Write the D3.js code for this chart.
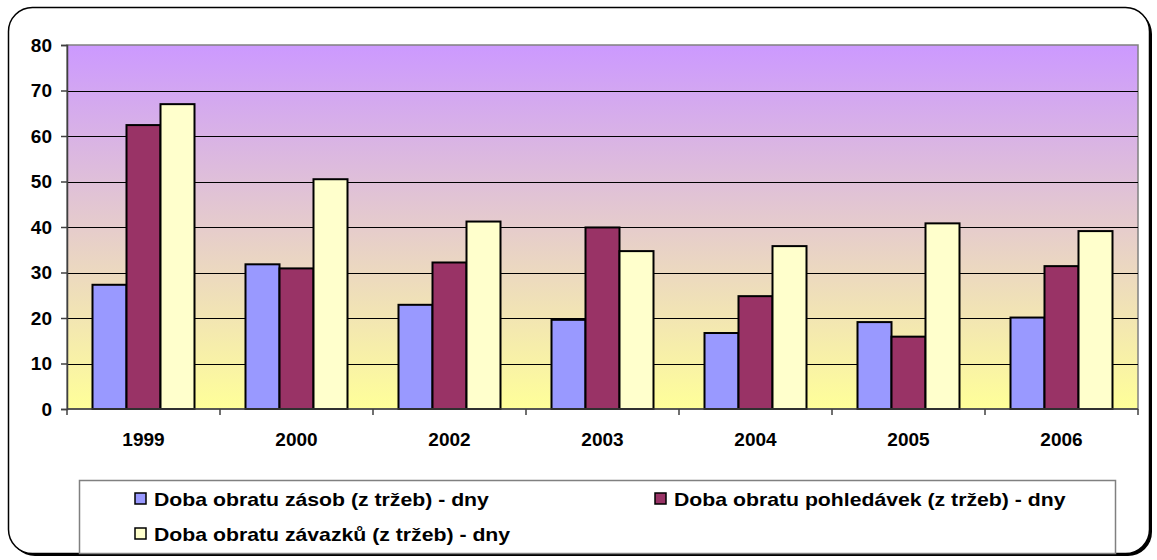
<!DOCTYPE html>
<html>
<head>
<meta charset="utf-8">
<script src="https://cdn.jsdelivr.net/npm/d3@7"></script>
<style>
  html, body { margin: 0; padding: 0; background: #fff; }
  svg { display: block; font-family: "Liberation Sans", Arial, sans-serif; }
</style>
</head>
<body>
<svg id="chart" width="1157" height="560"></svg>
<script>
// Turnover periods in days, by year
const years = ["1999", "2000", "2002", "2003", "2004", "2005", "2006"];
const seriesNames = [
  "Doba obratu zásob (z tržeb) - dny",
  "Doba obratu pohledávek (z tržeb) - dny",
  "Doba obratu závazků (z tržeb) - dny"
];
const inventoryDays   = [27.3, 31.8, 22.9, 19.6, 16.7, 19.1, 20.1];
const receivableDays  = [62.4, 30.9, 32.2, 39.9, 24.8, 15.9, 31.4];
const payableDays     = [67.0, 50.5, 41.2, 34.7, 35.8, 40.8, 39.1];
const yTicks = [0, 10, 20, 30, 40, 50, 60, 70, 80];
const seriesColors = ["#9999FF", "#993366", "#FFFFCC"];

const seriesValues = [inventoryDays, receivableDays, payableDays];

const svg = d3.select("#chart");

// Outer chart frame with drop shadow
svg.append("rect")
  .attr("x", 11).attr("y", 10).attr("width", 1141).attr("height", 546)
  .attr("rx", 24).attr("ry", 24).attr("fill", "#000");
svg.append("rect")
  .attr("x", 8.5).attr("y", 7.5).attr("width", 1141).attr("height", 546)
  .attr("rx", 24).attr("ry", 24)
  .attr("fill", "#fff").attr("stroke", "#000").attr("stroke-width", 1.5);

const plot = { left: 67, right: 1138, top: 45, bottom: 409 };

const x = d3.scaleBand().domain(years).range([plot.left, plot.right]).padding(0);
const xs = d3.scaleBand().domain(d3.range(3)).range([0, x.bandwidth()])
  .paddingInner(0).paddingOuter(0.75);
const y = d3.scaleLinear().domain([0, 80]).range([plot.bottom, plot.top]);

// Plot-area gradient background
const defs = svg.append("defs");
const grad = defs.append("linearGradient").attr("id", "plotBg")
  .attr("x1", 0).attr("y1", 0).attr("x2", 0).attr("y2", 1);
grad.append("stop").attr("offset", "0%").attr("stop-color", "#CC99FF");
grad.append("stop").attr("offset", "100%").attr("stop-color", "#FFFF99");

svg.append("rect")
  .attr("x", plot.left).attr("y", plot.top)
  .attr("width", plot.right - plot.left).attr("height", plot.bottom - plot.top)
  .attr("fill", "url(#plotBg)")
  .attr("stroke", "#808080").attr("stroke-width", 1.5);

// Horizontal gridlines
svg.append("g").selectAll("line")
  .data(yTicks.filter(t => t > 0 && t < 80))
  .join("line")
  .attr("x1", plot.left).attr("x2", plot.right)
  .attr("y1", d => Math.round(y(d)) + 0.5).attr("y2", d => Math.round(y(d)) + 0.5)
  .attr("stroke", "#000").attr("stroke-width", 1);

// Bars
const groups = svg.append("g").selectAll("g")
  .data(years)
  .join("g")
  .attr("transform", d => `translate(${x(d)},0)`);

groups.selectAll("rect")
  .data((yr, i) => seriesValues.map((vals, s) => ({ s, v: vals[i] })))
  .join("rect")
  .attr("x", d => xs(d.s))
  .attr("width", xs.bandwidth())
  .attr("y", d => y(d.v))
  .attr("height", d => y(0) - y(d.v))
  .attr("fill", d => seriesColors[d.s])
  .attr("stroke", "#000").attr("stroke-width", 2);

// Y axis
const yAxis = svg.append("g")
  .attr("transform", `translate(${plot.left},0)`)
  .call(d3.axisLeft(y).tickValues(yTicks).tickSize(6).tickPadding(9).tickFormat(d3.format("d")));
yAxis.select(".domain").attr("stroke", "#404040").attr("stroke-width", 1.5);
yAxis.selectAll(".tick line").attr("stroke", "#404040").attr("stroke-width", 1.5);
yAxis.selectAll("text").attr("font-size", 19).attr("font-weight", "bold")
  .attr("fill", "#000").attr("font-family", "Liberation Sans, Arial, sans-serif");

// X axis with ticks at category boundaries
const xAxisG = svg.append("g").attr("transform", `translate(0,${plot.bottom})`);
xAxisG.append("line")
  .attr("x1", plot.left).attr("x2", plot.right)
  .attr("stroke", "#404040").attr("stroke-width", 1.5);
xAxisG.selectAll("line.tk")
  .data(years.map(d => x(d)).concat([plot.right]))
  .join("line").attr("class", "tk")
  .attr("x1", d => d).attr("x2", d => d)
  .attr("y1", 0).attr("y2", 6)
  .attr("stroke", "#404040").attr("stroke-width", 1.5);
xAxisG.selectAll("text")
  .data(years)
  .join("text")
  .attr("x", d => x(d) + x.bandwidth() / 2)
  .attr("y", 37)
  .attr("text-anchor", "middle")
  .attr("font-size", 19).attr("font-weight", "bold")
  .text(d => d);

// Legend
const legend = svg.append("g");
legend.append("rect")
  .attr("x", 79.5).attr("y", 480.5).attr("width", 1036).attr("height", 73)
  .attr("fill", "#fff").attr("stroke", "#808080").attr("stroke-width", 1.5);

const legendPos = [
  { x: 135, y: 493 },
  { x: 655, y: 493 },
  { x: 135, y: 528 }
];
const items = legend.selectAll("g.item")
  .data(seriesNames)
  .join("g").attr("class", "item")
  .attr("transform", (d, i) => `translate(${legendPos[i].x},${legendPos[i].y})`);
items.append("rect")
  .attr("x", 0).attr("y", 0).attr("width", 11).attr("height", 11)
  .attr("fill", (d, i) => seriesColors[i])
  .attr("stroke", "#000").attr("stroke-width", 1.5);
// Legend labels are set slightly wide
items.append("text")
  .attr("transform", "translate(19,12.5) scale(1.18,1)")
  .attr("font-size", 18).attr("font-weight", "bold")
  .text(d => d);
</script>
</body>
</html>
